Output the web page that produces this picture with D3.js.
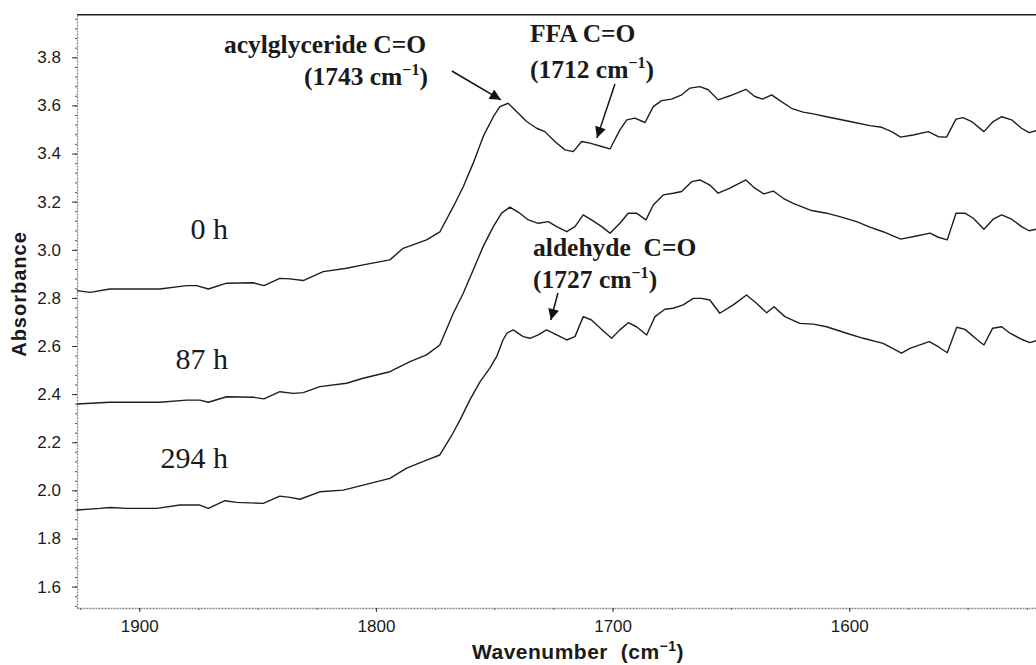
<!DOCTYPE html>
<html><head><meta charset="utf-8">
<script src="https://cdn.jsdelivr.net/npm/d3@7"></script>
<style>body{margin:0;background:#fff}svg{display:block}</style>
</head><body><svg id="c" width="1036" height="665"></svg>
<script>
// ---- data (wavenumber cm-1, absorbance) ----
const wn0h = [1926.3,1920.8,1912.4,1891.3,1880.0,1875.7,1870.8,1863.1,1851.8,1847.3,1840.6,1836.3,1830.7,1822.3,1812.4,1805.4,1794.1,1788.5,1778.6,1773.0,1767.3,1763.1,1758.9,1754.7,1750.4,1747.6,1744.1,1740.5,1736.3,1732.1,1728.6,1724.4,1720.1,1716.6,1713.1,1709.6,1704.6,1701.1,1696.9,1694.0,1690.6,1686.3,1682.8,1679.3,1675.1,1670.8,1667.3,1663.1,1659.6,1655.4,1650.4,1643.7,1639.9,1636.6,1632.8,1629.3,1624.4,1619.5,1615.2,1609.6,1599.7,1591.3,1586.3,1582.1,1578.3,1573.0,1566.6,1562.4,1558.9,1554.9,1551.9,1548.3,1543.1,1539.2,1535.6,1531.4,1527.2,1524.0,1521.1];
const abs0h = [2.830,2.823,2.837,2.837,2.851,2.851,2.837,2.861,2.863,2.851,2.881,2.879,2.872,2.909,2.923,2.937,2.958,3.006,3.041,3.074,3.179,3.262,3.360,3.470,3.553,3.595,3.609,3.574,3.533,3.505,3.491,3.450,3.415,3.408,3.450,3.443,3.429,3.419,3.498,3.540,3.547,3.529,3.595,3.620,3.626,3.644,3.672,3.678,3.665,3.623,3.640,3.667,3.637,3.626,3.644,3.620,3.588,3.572,3.565,3.553,3.533,3.516,3.509,3.491,3.468,3.477,3.491,3.470,3.468,3.543,3.549,3.533,3.491,3.533,3.553,3.540,3.505,3.487,3.495];

const wn87h = [1926.4,1912.4,1891.3,1880.0,1874.4,1870.8,1863.1,1851.8,1847.3,1840.6,1834.9,1830.7,1823.7,1812.4,1805.4,1794.1,1785.6,1778.6,1773.0,1767.3,1763.1,1758.9,1754.7,1750.4,1746.9,1743.4,1739.2,1735.6,1731.4,1727.2,1723.6,1719.4,1715.9,1712.4,1708.9,1704.6,1701.1,1696.9,1693.4,1689.9,1685.9,1682.8,1678.6,1674.4,1670.8,1666.6,1663.1,1658.9,1655.4,1650.4,1643.7,1639.9,1636.1,1632.1,1627.9,1623.7,1615.9,1609.6,1604.0,1596.9,1591.3,1585.7,1578.3,1571.6,1565.9,1562.4,1558.6,1554.9,1551.1,1547.6,1543.1,1539.2,1535.6,1531.4,1527.2,1524.0,1521.1];
const abs87h = [2.359,2.366,2.366,2.375,2.375,2.366,2.389,2.387,2.380,2.410,2.403,2.406,2.431,2.445,2.466,2.493,2.535,2.563,2.604,2.736,2.819,2.916,3.013,3.096,3.152,3.177,3.152,3.124,3.110,3.117,3.096,3.075,3.096,3.145,3.124,3.096,3.069,3.110,3.152,3.152,3.124,3.186,3.228,3.235,3.242,3.283,3.290,3.269,3.235,3.256,3.290,3.256,3.232,3.244,3.214,3.193,3.163,3.152,3.138,3.117,3.094,3.075,3.044,3.057,3.069,3.052,3.041,3.152,3.152,3.131,3.085,3.127,3.145,3.127,3.096,3.079,3.085];

const wn294h = [1926.4,1916.6,1912.4,1905.3,1892.6,1882.8,1874.4,1870.8,1863.8,1858.8,1847.6,1840.6,1836.3,1832.1,1823.7,1813.8,1805.4,1794.1,1787.0,1778.6,1773.0,1767.9,1764.5,1760.3,1756.1,1751.8,1748.9,1746.3,1744.6,1742.0,1737.8,1734.9,1731.4,1727.9,1723.6,1719.4,1715.9,1712.4,1708.9,1704.6,1700.4,1696.9,1693.4,1689.9,1685.6,1682.1,1677.9,1674.4,1670.2,1665.9,1662.4,1658.9,1654.7,1649.0,1643.4,1639.2,1634.9,1631.8,1627.2,1620.9,1615.2,1609.6,1601.1,1594.1,1585.7,1577.9,1574.4,1566.2,1562.4,1558.6,1554.6,1551.1,1546.2,1543.1,1539.4,1535.6,1532.1,1527.2,1523.7,1521.1];
const abs294h = [1.918,1.925,1.929,1.925,1.925,1.939,1.939,1.925,1.957,1.950,1.946,1.976,1.971,1.963,1.994,2.001,2.022,2.050,2.092,2.126,2.147,2.230,2.292,2.376,2.450,2.509,2.558,2.625,2.654,2.667,2.639,2.632,2.646,2.667,2.646,2.625,2.639,2.722,2.708,2.669,2.632,2.667,2.697,2.680,2.646,2.722,2.753,2.757,2.771,2.798,2.798,2.791,2.736,2.771,2.812,2.778,2.738,2.763,2.722,2.694,2.691,2.680,2.653,2.632,2.611,2.570,2.590,2.618,2.597,2.572,2.678,2.669,2.628,2.604,2.674,2.680,2.653,2.628,2.614,2.622];

const xTicks = [1900, 1800, 1700, 1600];
const yTicks = [1.6, 1.8, 2.0, 2.2, 2.4, 2.6, 2.8, 3.0, 3.2, 3.4, 3.6, 3.8];
const traceLabels = ["0 h", "87 h", "294 h"];
const traceLabelAbs = [3.045, 2.504, 2.093];

// ---- layout ----
const L = 77, R = 1036, T = 14.7, B = 608;
const svg = d3.select("#c");
const x = d3.scaleLinear().domain([1926.3, 1521.1]).range([L, R]);
const y = d3.scaleLinear().domain([1.511, 3.977]).range([B, T]);

const axisCol = "#8a8a8a";
const textCol = "#1a1a1a";
const sans = "Liberation Sans, Arial, sans-serif";
const serif = "Liberation Serif, Times New Roman, serif";

// minor ticks
const yMinor = d3.range(1.52, 3.97, 0.04);
const xMinor = d3.range(1925, 1520, -25);

const gyMinor = svg.append("g").attr("transform", `translate(${L},0)`)
  .call(d3.axisLeft(y).tickValues(yMinor).tickSize(2).tickFormat(""));
gyMinor.select(".domain").remove();
gyMinor.selectAll("line").attr("stroke", "#555").attr("stroke-width", 1);

const gxMinor = svg.append("g").attr("transform", `translate(0,${B})`)
  .call(d3.axisBottom(x).tickValues(xMinor).tickSize(2).tickFormat(""));
gxMinor.select(".domain").remove();
gxMinor.selectAll("line").attr("stroke", "#555").attr("stroke-width", 1);

// major axes
const gy = svg.append("g").attr("transform", `translate(${L},0)`)
  .call(d3.axisLeft(y).tickValues(yTicks).tickFormat(d3.format(".1f")).tickSize(5).tickSizeOuter(0));
gy.select(".domain").attr("stroke", axisCol).attr("stroke-dasharray", "2,1").attr("stroke-width", 1.3);
gy.selectAll(".tick line").attr("stroke", "#333");
gy.selectAll(".tick text").attr("font-family", sans)
  .attr("font-size", 17).attr("fill", textCol).attr("x", -16);

const gx = svg.append("g").attr("transform", `translate(0,${B})`)
  .call(d3.axisBottom(x).tickValues(xTicks).tickFormat(d3.format("d")).tickSize(4).tickSizeOuter(0));
gx.select(".domain").attr("stroke", axisCol).attr("stroke-dasharray", "2,1").attr("stroke-width", 1.3);
gx.selectAll(".tick line").attr("stroke", "#333");
gx.selectAll(".tick text").attr("font-family", sans)
  .attr("font-size", 17).attr("fill", textCol).attr("y", 12);

// top frame line
svg.append("line").attr("x1", L).attr("x2", R).attr("y1", T).attr("y2", T)
  .attr("stroke", "#222").attr("stroke-width", 1.4);

// axis titles
svg.append("text").attr("transform", `translate(26,294) rotate(-90)`)
  .attr("text-anchor", "middle").attr("font-family", sans).attr("letter-spacing", 1)
  .attr("font-weight", "bold").attr("font-size", 20).attr("fill", textCol).text("Absorbance");

const xt = svg.append("text").attr("x", 578).attr("y", 659)
  .attr("text-anchor", "middle").attr("font-family", sans).attr("letter-spacing", 0.5)
  .attr("font-weight", "bold").attr("font-size", 21).attr("fill", textCol)
  .attr("xml:space", "preserve");
xt.append("tspan").text("Wavenumber  (cm");
xt.append("tspan").attr("font-size", 14).attr("dy", -8).text("\u22121");
xt.append("tspan").attr("dy", 8).text(")");

// traces
const series = [[wn0h, abs0h], [wn87h, abs87h], [wn294h, abs294h]];
const line = d3.line().x(d => x(d[0])).y(d => y(d[1]));
svg.append("defs").append("clipPath").attr("id", "clip").append("rect")
  .attr("x", L).attr("y", T).attr("width", R - L).attr("height", B - T);
svg.append("g").attr("clip-path", "url(#clip)").selectAll("path").data(series).join("path")
  .attr("d", s => line(d3.zip(s[0], s[1])))
  .attr("fill", "none").attr("stroke", "#1e1e1e").attr("stroke-width", 1.4)
  .attr("stroke-linejoin", "round");

// trace labels
svg.selectAll("text.tl").data(traceLabels).join("text").attr("class", "tl")
  .attr("x", x(1862.5)).attr("y", (d, i) => y(traceLabelAbs[i]))
  .attr("text-anchor", "end").attr("font-family", serif)
  .attr("font-size", 30).attr("fill", textCol).text(d => d);

// annotations
function ann(wn, ab, anchor, main, sup, tail) {
  const t = svg.append("text").attr("x", x(wn)).attr("y", y(ab)).attr("text-anchor", anchor)
    .attr("font-family", serif).attr("font-weight", "bold").attr("font-size", 25.5)
    .attr("fill", textCol).attr("xml:space", "preserve");
  t.append("tspan").text(main);
  if (sup) {
    t.append("tspan").attr("font-size", 16).attr("dy", -10).text(sup);
    t.append("tspan").attr("dy", 10).text(tail);
  }
}
ann(1864.2, 3.818, "start", "acylglyceride C=O");
ann(1778.0, 3.685, "end", "(1743 cm", "\u22121", ")");
ann(1734.9, 3.864, "start", "FFA C=O");
ann(1734.9, 3.714, "start", "(1712 cm", "\u22121", ")");
ann(1733.6, 2.974, "start", "aldehyde  C=O");
ann(1733.6, 2.841, "start", "(1727 cm", "\u22121", ")");

// arrows
const arrows = [
  {from: [1767.9, 3.743], to: [1747.2, 3.623]},
  {from: [1699.0, 3.689], to: [1706.6, 3.465]},
  {from: [1723.1, 2.820], to: [1726.1, 2.708]}
];
svg.select("defs").append("marker").attr("id", "ah").attr("viewBox", "0 0 10 10")
  .attr("refX", 10).attr("refY", 5).attr("markerWidth", 15).attr("markerHeight", 11)
  .attr("markerUnits", "userSpaceOnUse").attr("orient", "auto")
  .append("path").attr("d", "M0,0 L10,5 L0,10 Z").attr("fill", "#111");
svg.selectAll("line.arr").data(arrows).join("line").attr("class", "arr")
  .attr("x1", d => x(d.from[0])).attr("y1", d => y(d.from[1]))
  .attr("x2", d => x(d.to[0])).attr("y2", d => y(d.to[1]))
  .attr("stroke", "#111").attr("stroke-width", 1.5).attr("marker-end", "url(#ah)");
</script>
</body></html>
